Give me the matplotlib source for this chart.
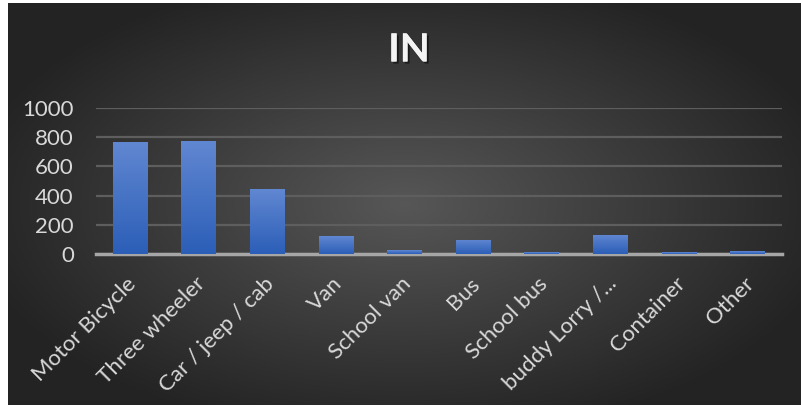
import numpy as np
import matplotlib.pyplot as plt
import matplotlib.patheffects as pe
import matplotlib.transforms as mtransforms

categories = ["Motor Bicycle", "Three wheeler", "Car / jeep / cab", "Van", "School van",
              "Bus", "School bus", "buddy Lorry /...", "Container", "Other"]
counts = [768, 774, 443, 120, 25, 99, 12, 133, 12, 18]
yticks = [0, 200, 400, 600, 800, 1000]

fig = plt.figure(figsize=(8.01, 4.08), dpi=100)
fig.patch.set_facecolor("white")

# dark radial background
bg = fig.add_axes([8 / 801, 3 / 408, 793 / 801, 402 / 408])
bg.set_axis_off()
yy, xx = np.mgrid[-1:1:300j, -1:1:600j]
r = np.sqrt((xx * 0.95) ** 2 + (yy * 0.9) ** 2)
shade = np.clip(0.34 - 0.19 * r, 0.14, 0.34)
bg.imshow(np.dstack([shade] * 3), aspect="auto", extent=[0, 1, 0, 1])

fig.text(409 / 801, 1 - 50 / 408, "IN", ha="center", va="center", color="#f4f4f4",
         fontsize=28, fontweight="bold", family="Lato",
         path_effects=[pe.withSimplePatchShadow(offset=(1.5, -1.5), shadow_rgbFace="black", alpha=0.5),
                       pe.Normal()])

ax = fig.add_axes([96 / 801, 1 - 254 / 408, 686 / 801, 146 / 408])
ax.patch.set_alpha(0)
x = np.arange(len(categories))
bars = ax.bar(x, counts, width=0.51, color="#3a6cc6", zorder=3)

grad = np.linspace(0, 1, 100).reshape(-1, 1)
top = np.array([0.38, 0.53, 0.82])
bot = np.array([0.17, 0.37, 0.72])
img = grad[..., None] * top + (1 - grad[..., None]) * bot
for b in bars:
    bx, by = b.get_x(), b.get_y()
    im = ax.imshow(img, extent=[bx, bx + b.get_width(), by, by + b.get_height()],
                   aspect="auto", origin="lower", zorder=4)
    im.set_clip_path(b)

ax.set_xlim(-0.5, len(categories) - 0.5)
ax.set_ylim(0, 1000)
ax.set_yticks(yticks)
ax.yaxis.grid(True, color="#5e5e5e", lw=1.6, zorder=0)
ax.set_axisbelow(True)
for s in ["top", "right", "left"]:
    ax.spines[s].set_visible(False)
ax.spines["bottom"].set_color("#a6a6a6")
ax.spines["bottom"].set_linewidth(2.5)
ax.spines["bottom"].set_zorder(2)
ax.tick_params(length=0, colors="#d9d9d9")
ax.tick_params(axis="y", pad=16, labelsize=16)
ax.tick_params(axis="x", pad=14, labelsize=16)
ax.set_xticks(x)
ax.set_xticklabels(categories, rotation=45, ha="right", rotation_mode="anchor")
shift = mtransforms.ScaledTranslation(-4 / 100, 0, fig.dpi_scale_trans)
for lab in ax.get_xticklabels():
    lab.set_transform(lab.get_transform() + shift)
for lab in ax.get_xticklabels() + ax.get_yticklabels():
    lab.set_family("Lato")
    lab.set_color("#d9d9d9")

fig.savefig("out.png", dpi=100)
